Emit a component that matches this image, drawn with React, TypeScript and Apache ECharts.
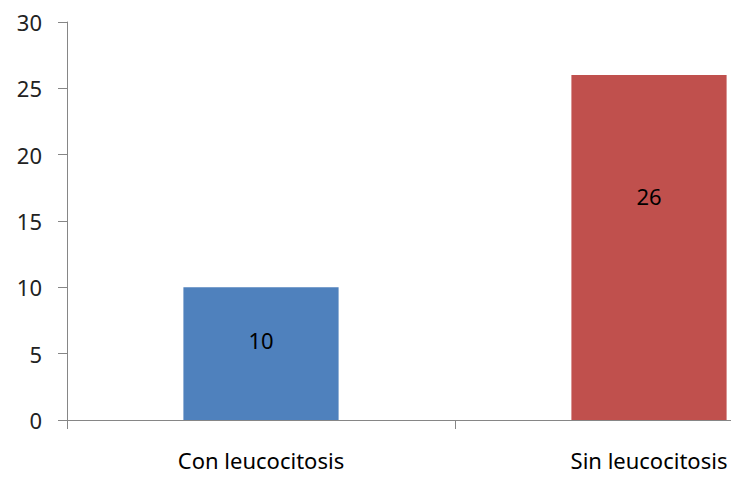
import React, { useEffect, useRef } from "react";
import * as echarts from "echarts";

const categories = ["Con leucocitosis", "Sin leucocitosis"];
const values = [10, 26];
const yTicks = [0, 5, 10, 15, 20, 25, 30];

const barColors = ["#4F81BD", "#C0504D"];
const labelPositions: [string, string][] = [["50%", "40%"], ["50%", "35%"]];

export default function App() {
  const ref = useRef<HTMLDivElement>(null);
  useEffect(() => {
    if (!ref.current) return;
    const chart = echarts.init(ref.current, null, { renderer: "svg" });
    const font = "Noto Sans";
    chart.setOption({
      animation: false,
      backgroundColor: "#ffffff",
      grid: { left: 67, top: 22, bottom: 58, right: 57, containLabel: false },
      xAxis: {
        type: "category",
        data: categories,
        axisLine: { lineStyle: { color: "#868686", width: 1 } },
        axisTick: { show: true, length: 9, alignWithLabel: false, lineStyle: { color: "#868686" } },
        axisLabel: { fontFamily: font, fontSize: 22, color: "#000", margin: 29 },
        splitLine: { show: false },
      },
      yAxis: {
        type: "value",
        min: yTicks[0],
        max: yTicks[yTicks.length - 1],
        interval: yTicks[1] - yTicks[0],
        axisLine: { show: true, lineStyle: { color: "#868686", width: 1 } },
        axisTick: { show: true, length: 9, lineStyle: { color: "#868686" } },
        axisLabel: { fontFamily: font, fontSize: 22, color: "#222", margin: 25 },
        splitLine: { show: false },
      },
      series: [
        {
          type: "bar",
          barWidth: "40%",
          data: values.map((v, i) => ({
            value: v,
            itemStyle: { color: barColors[i] },
            label: { position: labelPositions[i] },
          })),
          label: {
            show: true,
            fontFamily: font,
            fontSize: 22,
            color: "#000",
            align: "center",
            verticalAlign: "middle",
          },
        },
      ],
    });
    return () => chart.dispose();
  }, []);
  return (
    <div
      style={{
        position: "fixed",
        left: 0,
        top: 0,
        width: 731,
        height: 478,
        overflow: "hidden",
        background: "#fff",
      }}
    >
      <div ref={ref} style={{ width: 900, height: 478 }} />
    </div>
  );
}
